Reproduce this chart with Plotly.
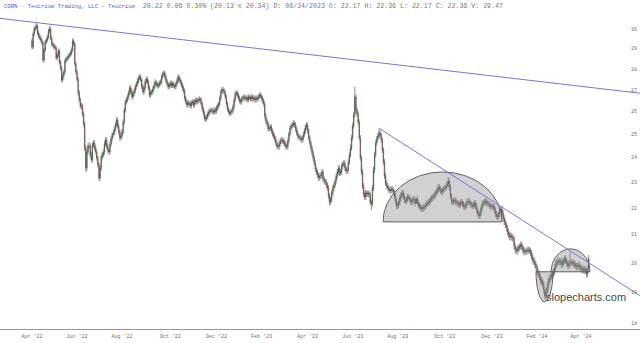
import numpy as np
import pandas as pd
import plotly.graph_objects as go

# ---------------- data ----------------
closes = [
29.08, 29.74, 30.00, 30.10, 30.15, 29.79, 29.64, 29.53, 29.44, 29.28,
28.43, 28.93, 29.33, 29.44, 29.58, 29.89, 30.00, 29.53, 29.23, 29.18,
29.08, 29.03, 28.53, 28.68, 28.88, 28.33, 28.04, 27.46, 27.66, 27.85,
28.38, 28.48, 28.53, 28.63, 28.68, 28.78, 28.93, 29.38, 29.23, 28.24,
27.85, 27.51, 26.86, 26.53, 26.25, 26.25, 25.89, 25.45, 24.41, 23.57,
24.24, 24.49, 24.49, 24.12, 23.91, 24.54, 24.62, 24.41, 24.24, 23.99,
23.70, 23.17, 23.57, 24.03, 24.12, 24.24, 24.58, 24.75, 24.49, 24.32,
24.24, 24.58, 24.80, 24.97, 25.06, 25.23, 25.41, 25.62, 25.36, 25.10,
24.84, 24.92, 25.10, 25.53, 26.07, 26.44, 26.53, 26.67, 26.86, 27.09,
26.90, 26.67, 26.81, 26.95, 27.14, 27.27, 27.42, 27.56, 27.61, 27.46,
27.14, 26.90, 27.09, 27.37, 27.51, 27.37, 27.09, 26.76, 26.86, 26.90,
27.04, 27.18, 27.37, 27.27, 27.18, 27.23, 27.32, 27.37, 27.61, 27.75,
27.80, 27.61, 27.42, 27.27, 27.14, 27.23, 27.32, 27.20, 27.28, 27.19,
27.14, 27.27, 27.42, 27.61, 27.46, 27.37, 27.23, 27.09, 26.95, 26.62,
26.44, 26.30, 26.40, 26.35, 26.25, 26.40, 26.44, 26.30, 26.44, 26.53,
26.44, 26.49, 26.58, 26.53, 26.35, 26.12, 25.94, 25.71, 25.67, 25.76,
25.89, 25.98, 26.03, 26.07, 26.03, 25.97, 26.07, 26.02, 26.16, 26.25,
26.35, 26.62, 26.90, 27.02, 26.96, 26.86, 26.67, 26.35, 26.12, 25.98,
25.92, 25.98, 26.03, 26.21, 26.53, 26.81, 26.86, 26.76, 26.62, 26.49,
26.44, 26.58, 26.62, 26.67, 26.58, 26.62, 26.53, 26.67, 26.62, 26.58,
26.67, 26.58, 26.62, 26.53, 26.62, 26.58, 26.67, 26.76, 26.71, 26.62,
26.49, 26.35, 25.80, 25.58, 25.45, 25.23, 25.27, 25.32, 25.14, 25.01,
24.92, 24.80, 24.62, 24.49, 24.45, 24.58, 24.71, 24.75, 24.71, 24.66,
24.58, 24.49, 24.45, 24.71, 25.01, 25.27, 25.36, 25.41, 25.49, 25.41,
25.23, 25.06, 24.92, 24.88, 24.84, 24.75, 24.80, 24.97, 25.14, 25.32,
25.41, 25.14, 24.84, 24.62, 24.41, 24.20, 23.99, 23.78, 23.53, 23.41,
23.29, 23.18, 23.24, 23.27, 23.41, 23.13, 23.05, 23.01, 22.89, 22.77,
22.46, 22.22, 22.34, 22.58, 22.77, 22.89, 23.05, 23.25, 23.41, 23.57,
23.37, 23.41, 23.66, 23.74, 23.78, 23.57, 23.45, 23.49, 23.82, 24.12,
24.41, 24.84, 25.36, 25.85, 26.67, 26.07, 25.89, 25.53, 24.84, 23.99,
23.41, 22.85, 22.54, 22.42, 22.58, 22.54, 22.57, 22.50, 22.22, 22.15,
22.77, 23.49, 24.12, 24.62, 24.80, 24.92, 25.06, 24.97, 24.75, 24.32,
23.82, 23.25, 22.97, 22.85, 22.77, 22.70, 22.66, 22.73, 22.70, 22.62,
22.46, 22.26, 22.07, 22.11, 22.22, 22.38, 22.50, 22.58, 22.46, 22.30,
22.26, 22.34, 22.42, 22.40, 22.30, 22.22, 22.26, 22.34, 22.30, 22.17,
22.36, 22.18, 22.11, 22.04, 22.00, 21.96, 22.00, 22.04, 22.07, 22.15,
22.19, 22.21, 22.26, 22.34, 22.38, 22.42, 22.46, 22.54, 22.62, 22.70,
22.81, 22.74, 22.66, 22.62, 22.70, 22.74, 22.77, 22.85, 22.93, 23.05,
22.81, 22.46, 22.26, 22.22, 22.26, 22.29, 22.22, 22.19, 22.15, 22.11,
22.19, 22.22, 22.15, 22.07, 22.04, 22.11, 22.22, 22.26, 22.22, 22.15,
22.11, 22.07, 22.11, 22.19, 22.07, 21.89, 21.77, 21.70, 21.81, 22.00,
22.15, 22.19, 22.22, 22.25, 22.19, 22.16, 22.15, 22.07, 22.04, 22.07,
22.04, 21.92, 21.77, 21.70, 21.66, 21.77, 21.89, 21.96, 21.81, 21.62,
21.47, 21.36, 21.25, 21.10, 21.00, 20.92, 20.96, 20.90, 20.85, 20.60,
20.45, 20.42, 20.49, 20.53, 20.57, 20.64, 20.57, 20.45, 20.38, 20.40,
20.42, 20.44, 20.45, 20.42, 20.35, 20.21, 20.10, 20.03, 19.94, 19.83,
19.69, 19.62, 19.52, 19.41, 19.35, 19.28, 19.08, 18.88, 18.98, 19.14,
19.35, 19.45, 19.52, 19.59, 19.62, 19.69, 19.83, 19.97, 20.03, 20.07,
20.03, 20.05, 19.94, 20.00, 20.07, 20.14, 20.07, 19.97, 19.90, 19.97,
20.03, 20.01, 20.00, 19.97, 19.94, 19.90, 19.87, 19.89, 19.92, 19.83,
19.79, 19.75, 19.79, 19.75, 19.72, 19.62, 19.79, 20.15,
]

opens = [
29.40, 29.08, 29.74, 30.00, 30.10, 30.15, 29.79, 29.64, 29.53, 29.44,
29.28, 28.43, 28.93, 29.33, 29.44, 29.58, 29.89, 30.00, 29.53, 29.23,
29.18, 29.08, 29.03, 28.53, 28.68, 28.88, 28.33, 28.04, 27.46, 27.66,
27.85, 28.38, 28.48, 28.53, 28.63, 28.68, 28.78, 28.93, 29.38, 29.23,
28.24, 27.85, 27.51, 26.86, 26.53, 26.25, 26.25, 25.89, 25.45, 24.41,
23.57, 24.24, 24.49, 24.49, 24.12, 23.91, 24.54, 24.62, 24.41, 24.24,
23.99, 23.70, 23.17, 23.57, 24.03, 24.12, 24.24, 24.58, 24.75, 24.49,
24.32, 24.24, 24.58, 24.80, 24.97, 25.06, 25.23, 25.41, 25.62, 25.36,
25.10, 24.84, 24.92, 25.10, 25.53, 26.07, 26.44, 26.53, 26.67, 26.86,
27.09, 26.90, 26.67, 26.81, 26.95, 27.14, 27.27, 27.42, 27.56, 27.61,
27.46, 27.14, 26.90, 27.09, 27.37, 27.51, 27.37, 27.09, 26.76, 26.86,
26.90, 27.04, 27.18, 27.37, 27.27, 27.18, 27.23, 27.32, 27.37, 27.61,
27.75, 27.80, 27.61, 27.42, 27.27, 27.14, 27.23, 27.32, 27.20, 27.28,
27.19, 27.14, 27.27, 27.42, 27.61, 27.46, 27.37, 27.23, 27.09, 26.95,
26.62, 26.44, 26.30, 26.40, 26.35, 26.25, 26.40, 26.44, 26.30, 26.44,
26.53, 26.44, 26.49, 26.58, 26.53, 26.35, 26.12, 25.94, 25.71, 25.67,
25.76, 25.89, 25.98, 26.03, 26.07, 26.03, 25.97, 26.07, 26.02, 26.16,
26.25, 26.35, 26.62, 26.90, 27.02, 26.96, 26.86, 26.67, 26.35, 26.12,
25.98, 25.92, 25.98, 26.03, 26.21, 26.53, 26.81, 26.86, 26.76, 26.62,
26.49, 26.44, 26.58, 26.62, 26.67, 26.58, 26.62, 26.53, 26.67, 26.62,
26.58, 26.67, 26.58, 26.62, 26.53, 26.62, 26.58, 26.67, 26.76, 26.71,
26.62, 26.49, 26.35, 25.80, 25.58, 25.45, 25.23, 25.27, 25.32, 25.14,
25.01, 24.92, 24.80, 24.62, 24.49, 24.45, 24.58, 24.71, 24.75, 24.71,
24.66, 24.58, 24.49, 24.45, 24.71, 25.01, 25.27, 25.36, 25.41, 25.49,
25.41, 25.23, 25.06, 24.92, 24.88, 24.84, 24.75, 24.80, 24.97, 25.14,
25.32, 25.41, 25.14, 24.84, 24.62, 24.41, 24.20, 23.99, 23.78, 23.53,
23.41, 23.29, 23.18, 23.24, 23.27, 23.41, 23.13, 23.05, 23.01, 22.89,
22.77, 22.46, 22.22, 22.34, 22.58, 22.77, 22.89, 23.05, 23.25, 23.41,
23.57, 23.37, 23.41, 23.66, 23.74, 23.78, 23.57, 23.45, 23.49, 23.82,
24.12, 24.41, 24.84, 25.36, 25.85, 26.67, 26.07, 25.89, 25.53, 24.84,
23.99, 23.41, 22.85, 22.54, 22.42, 22.58, 22.54, 22.57, 22.50, 22.22,
22.15, 22.77, 23.49, 24.12, 24.62, 24.80, 24.92, 25.06, 24.97, 24.75,
24.32, 23.82, 23.25, 22.97, 22.85, 22.77, 22.70, 22.66, 22.73, 22.70,
22.62, 22.46, 22.26, 22.07, 22.11, 22.22, 22.38, 22.50, 22.58, 22.46,
22.30, 22.26, 22.34, 22.42, 22.40, 22.30, 22.22, 22.26, 22.34, 22.30,
22.17, 22.36, 22.18, 22.11, 22.04, 22.00, 21.96, 22.00, 22.04, 22.07,
22.15, 22.19, 22.21, 22.26, 22.34, 22.38, 22.42, 22.46, 22.54, 22.62,
22.70, 22.81, 22.74, 22.66, 22.62, 22.70, 22.74, 22.77, 22.85, 22.93,
23.05, 22.81, 22.46, 22.26, 22.22, 22.26, 22.29, 22.22, 22.19, 22.15,
22.11, 22.19, 22.22, 22.15, 22.07, 22.04, 22.11, 22.22, 22.26, 22.22,
22.15, 22.11, 22.07, 22.11, 22.19, 22.07, 21.89, 21.77, 21.70, 21.81,
22.00, 22.15, 22.19, 22.22, 22.25, 22.19, 22.16, 22.15, 22.07, 22.04,
22.07, 22.04, 21.92, 21.77, 21.70, 21.66, 21.77, 21.89, 21.96, 21.81,
21.62, 21.47, 21.36, 21.25, 21.10, 21.00, 20.92, 20.96, 20.90, 20.85,
20.60, 20.45, 20.42, 20.49, 20.53, 20.57, 20.64, 20.57, 20.45, 20.38,
20.40, 20.42, 20.44, 20.45, 20.42, 20.35, 20.21, 20.10, 20.03, 19.94,
19.83, 19.69, 19.62, 19.52, 19.41, 19.35, 19.28, 19.08, 18.88, 18.98,
19.14, 19.35, 19.45, 19.52, 19.59, 19.62, 19.69, 19.83, 19.97, 20.03,
20.07, 20.03, 20.05, 19.94, 20.00, 20.07, 20.14, 20.07, 19.97, 19.90,
19.97, 20.03, 20.01, 20.00, 19.97, 19.94, 19.90, 19.87, 19.89, 19.92,
19.83, 19.79, 19.75, 19.79, 19.75, 19.72, 19.62, 19.79,
]

highs = [
29.52, 29.86, 30.12, 30.22, 30.35, 30.25, 29.92, 29.76, 29.65, 29.55,
29.38, 29.02, 29.45, 29.55, 29.70, 30.02, 30.18, 30.10, 29.65, 29.35,
29.30, 29.20, 29.14, 28.80, 29.00, 28.99, 28.45, 28.15, 27.78, 27.97,
28.50, 28.60, 28.65, 28.75, 28.80, 28.90, 29.05, 29.52, 29.50, 29.33,
28.35, 27.97, 27.62, 26.98, 26.65, 26.40, 26.36, 26.00, 25.58, 24.55,
24.38, 24.62, 24.65, 24.60, 24.25, 24.66, 24.75, 24.74, 24.53, 24.36,
24.10, 23.82, 23.70, 24.15, 24.25, 24.36, 24.70, 24.88, 24.86, 24.60,
24.43, 24.70, 24.92, 25.09, 25.18, 25.35, 25.53, 25.75, 25.73, 25.47,
25.21, 25.04, 25.22, 25.65, 26.20, 26.56, 26.65, 26.80, 26.98, 27.22,
27.20, 27.02, 26.93, 27.07, 27.26, 27.39, 27.54, 27.68, 27.74, 27.72,
27.57, 27.26, 27.21, 27.49, 27.63, 27.62, 27.48, 27.20, 26.98, 27.02,
27.16, 27.30, 27.49, 27.48, 27.38, 27.35, 27.44, 27.49, 27.73, 27.88,
27.92, 27.91, 27.72, 27.53, 27.38, 27.35, 27.44, 27.43, 27.40, 27.39,
27.30, 27.39, 27.54, 27.74, 27.72, 27.57, 27.48, 27.34, 27.20, 27.06,
26.73, 26.55, 26.52, 26.51, 26.46, 26.52, 26.56, 26.55, 26.56, 26.65,
26.64, 26.61, 26.70, 26.69, 26.64, 26.46, 26.23, 26.05, 25.83, 25.88,
26.01, 26.10, 26.15, 26.19, 26.18, 26.14, 26.19, 26.18, 26.28, 26.37,
26.47, 26.74, 27.02, 27.14, 27.13, 27.07, 26.97, 26.78, 26.46, 26.23,
26.09, 26.10, 26.15, 26.33, 26.65, 26.93, 26.98, 26.97, 26.87, 26.73,
26.60, 26.70, 26.74, 26.79, 26.78, 26.74, 26.73, 26.79, 26.78, 26.73,
26.79, 26.78, 26.74, 26.73, 26.74, 26.73, 26.79, 26.88, 26.87, 26.82,
26.73, 26.60, 26.46, 25.92, 25.70, 25.56, 25.39, 25.44, 25.43, 25.25,
25.12, 25.03, 24.91, 24.73, 24.60, 24.70, 24.83, 24.87, 24.86, 24.82,
24.77, 24.69, 24.60, 24.83, 25.13, 25.39, 25.48, 25.53, 25.61, 25.60,
25.52, 25.34, 25.17, 25.03, 24.99, 24.95, 24.92, 25.09, 25.26, 25.44,
25.53, 25.52, 25.25, 24.95, 24.73, 24.52, 24.31, 24.10, 23.89, 23.64,
23.52, 23.40, 23.35, 23.38, 23.53, 23.52, 23.24, 23.16, 23.12, 23.00,
22.88, 22.57, 22.45, 22.70, 22.89, 23.01, 23.17, 23.37, 23.53, 23.69,
23.68, 23.53, 23.78, 23.86, 23.90, 23.89, 23.68, 23.60, 23.94, 24.25,
24.54, 24.97, 25.50, 26.00, 27.15, 26.80, 26.20, 26.00, 25.65, 24.96,
24.10, 23.52, 22.97, 22.66, 22.70, 22.69, 22.68, 22.68, 22.61, 22.33,
22.89, 23.62, 24.25, 24.75, 24.93, 25.05, 25.25, 25.18, 25.08, 24.86,
24.43, 23.94, 23.37, 23.09, 22.97, 22.88, 22.81, 22.85, 22.84, 22.81,
22.73, 22.57, 22.37, 22.23, 22.34, 22.50, 22.62, 22.70, 22.69, 22.57,
22.41, 22.46, 22.54, 22.53, 22.51, 22.41, 22.38, 22.46, 22.45, 22.41,
22.36, 22.47, 22.29, 22.22, 22.15, 22.11, 22.12, 22.16, 22.19, 22.27,
22.31, 22.33, 22.38, 22.46, 22.50, 22.54, 22.58, 22.66, 22.74, 22.82,
22.93, 22.92, 22.85, 22.77, 22.82, 22.86, 22.89, 22.97, 23.05, 23.20,
23.16, 22.92, 22.57, 22.37, 22.38, 22.41, 22.40, 22.33, 22.30, 22.26,
22.31, 22.34, 22.33, 22.26, 22.18, 22.23, 22.34, 22.38, 22.37, 22.33,
22.26, 22.22, 22.23, 22.31, 22.30, 22.18, 22.00, 21.88, 21.93, 22.12,
22.27, 22.31, 22.34, 22.37, 22.36, 22.30, 22.27, 22.26, 22.18, 22.19,
22.18, 22.15, 22.03, 21.88, 21.81, 21.89, 22.01, 22.08, 22.07, 21.92,
21.73, 21.58, 21.47, 21.36, 21.21, 21.11, 21.07, 21.07, 21.01, 20.96,
20.71, 20.56, 20.60, 20.64, 20.68, 20.75, 20.75, 20.68, 20.56, 20.51,
20.53, 20.55, 20.56, 20.56, 20.53, 20.46, 20.32, 20.21, 20.14, 20.05,
19.94, 19.80, 19.73, 19.63, 19.52, 19.46, 19.39, 19.19, 19.10, 19.26,
19.47, 19.57, 19.64, 19.71, 19.74, 19.81, 19.95, 20.09, 20.15, 20.19,
20.18, 20.16, 20.16, 20.11, 20.19, 20.26, 20.25, 20.18, 20.08, 20.09,
20.38, 20.14, 20.12, 20.11, 20.08, 20.05, 20.01, 20.00, 20.03, 20.03,
19.94, 19.90, 19.90, 19.90, 19.86, 19.83, 19.91, 20.28,
]

lows = [
28.95, 28.98, 29.62, 29.88, 29.98, 29.68, 29.52, 29.42, 29.33, 29.16,
28.30, 28.32, 28.82, 29.22, 29.33, 29.47, 29.78, 29.42, 29.11, 29.05,
28.96, 28.92, 28.41, 28.42, 28.57, 28.21, 27.92, 27.33, 27.35, 27.55,
27.74, 28.27, 28.36, 28.42, 28.52, 28.57, 28.66, 28.82, 29.12, 28.12,
27.72, 27.38, 26.73, 26.41, 26.12, 26.10, 25.77, 25.32, 24.28, 23.40,
23.45, 24.12, 24.36, 24.00, 23.79, 23.80, 24.42, 24.30, 24.12, 23.87,
23.58, 23.05, 23.05, 23.45, 23.91, 24.00, 24.12, 24.46, 24.37, 24.20,
24.12, 24.13, 24.46, 24.68, 24.85, 24.95, 25.11, 25.30, 25.24, 24.98,
24.72, 24.72, 24.80, 24.98, 25.41, 25.95, 26.32, 26.41, 26.55, 26.74,
26.78, 26.55, 26.55, 26.69, 26.83, 27.02, 27.15, 27.30, 27.44, 27.34,
27.02, 26.78, 26.78, 26.97, 27.25, 27.25, 26.97, 26.64, 26.64, 26.74,
26.78, 26.92, 27.06, 27.15, 27.06, 27.06, 27.11, 27.20, 27.25, 27.49,
27.63, 27.49, 27.30, 27.15, 27.02, 27.02, 27.11, 27.08, 27.08, 27.07,
27.02, 27.02, 27.15, 27.30, 27.34, 27.25, 27.11, 26.97, 26.83, 26.50,
26.32, 26.18, 26.18, 26.23, 26.13, 26.13, 26.28, 26.18, 26.18, 26.32,
26.32, 26.32, 26.37, 26.41, 26.23, 26.00, 25.82, 25.59, 25.55, 25.55,
25.64, 25.77, 25.86, 25.91, 25.91, 25.85, 25.85, 25.90, 25.90, 26.04,
26.13, 26.23, 26.50, 26.78, 26.84, 26.74, 26.55, 26.23, 26.00, 25.86,
25.80, 25.80, 25.86, 25.91, 26.09, 26.41, 26.69, 26.64, 26.50, 26.37,
26.32, 26.32, 26.46, 26.50, 26.46, 26.46, 26.41, 26.41, 26.50, 26.46,
26.46, 26.46, 26.46, 26.41, 26.41, 26.46, 26.46, 26.55, 26.59, 26.50,
26.37, 26.23, 25.66, 25.46, 25.33, 25.11, 25.11, 25.15, 25.02, 24.89,
24.80, 24.68, 24.50, 24.37, 24.33, 24.33, 24.46, 24.59, 24.59, 24.54,
24.46, 24.37, 24.33, 24.33, 24.59, 24.89, 25.15, 25.24, 25.29, 25.29,
25.11, 24.94, 24.80, 24.76, 24.72, 24.63, 24.63, 24.68, 24.85, 25.02,
25.20, 25.02, 24.72, 24.50, 24.29, 24.08, 23.87, 23.66, 23.41, 23.29,
23.17, 23.06, 23.06, 23.12, 23.15, 23.01, 22.93, 22.89, 22.77, 22.65,
22.34, 22.10, 22.10, 22.22, 22.46, 22.65, 22.77, 22.93, 23.13, 23.29,
23.25, 23.25, 23.29, 23.54, 23.62, 23.45, 23.33, 23.33, 23.37, 23.70,
24.00, 24.29, 24.72, 25.24, 25.73, 25.95, 25.77, 25.41, 24.72, 23.87,
23.29, 22.73, 22.42, 22.30, 22.30, 22.42, 22.42, 22.38, 22.10, 21.92,
22.03, 22.65, 23.37, 24.00, 24.50, 24.68, 24.80, 24.85, 24.63, 24.20,
23.70, 23.13, 22.85, 22.73, 22.65, 22.58, 22.54, 22.54, 22.58, 22.50,
22.34, 22.14, 21.95, 21.95, 21.99, 22.10, 22.26, 22.38, 22.34, 22.18,
22.14, 22.14, 22.22, 22.28, 22.18, 22.10, 22.10, 22.14, 22.18, 22.05,
22.17, 22.08, 21.99, 21.92, 21.88, 21.84, 21.84, 21.88, 21.92, 21.95,
22.03, 22.07, 22.09, 22.14, 22.22, 22.26, 22.30, 22.34, 22.42, 22.50,
22.58, 22.62, 22.54, 22.50, 22.50, 22.58, 22.62, 22.65, 22.73, 22.81,
22.69, 22.34, 22.14, 22.10, 22.10, 22.14, 22.10, 22.07, 22.03, 21.99,
21.99, 22.07, 22.03, 21.95, 21.92, 21.92, 21.99, 22.10, 22.10, 22.03,
21.99, 21.95, 21.95, 21.99, 21.95, 21.77, 21.65, 21.58, 21.58, 21.69,
21.88, 22.03, 22.07, 22.10, 22.07, 22.04, 22.03, 21.95, 21.92, 21.92,
21.92, 21.80, 21.65, 21.58, 21.54, 21.54, 21.65, 21.77, 21.69, 21.50,
21.35, 21.24, 21.13, 20.98, 20.88, 20.80, 20.80, 20.78, 20.73, 20.48,
20.33, 20.30, 20.30, 20.37, 20.41, 20.45, 20.45, 20.33, 20.26, 20.26,
20.28, 20.30, 20.32, 20.30, 20.23, 20.09, 19.98, 19.91, 19.82, 19.71,
19.57, 19.50, 19.40, 19.29, 19.23, 19.16, 18.96, 18.78, 18.78, 18.86,
19.02, 19.23, 19.33, 19.40, 19.47, 19.50, 19.57, 19.71, 19.85, 19.91,
19.91, 19.91, 19.82, 19.82, 19.88, 19.95, 19.95, 19.85, 19.78, 19.78,
19.83, 19.89, 19.88, 19.85, 19.82, 19.78, 19.75, 19.75, 19.77, 19.71,
19.67, 19.63, 19.63, 19.63, 19.60, 19.50, 19.50, 19.67,
]

assert len(opens) == len(highs) == len(lows) == len(closes)

market_holidays = [
    "2022-04-15", "2022-05-30", "2022-06-20", "2022-07-04", "2022-09-05",
    "2022-11-24", "2022-12-26", "2023-01-02", "2023-01-16", "2023-02-20",
    "2023-04-07", "2023-05-29", "2023-06-19", "2023-07-04", "2023-09-04",
    "2023-11-23", "2023-12-25", "2024-01-01", "2024-01-15", "2024-02-19",
    "2024-03-29",
]
first_day = "2022-04-01"
tick_months = [4, 6, 8, 10, 12, 2]
y_ticks = [18, 19, 20, 21, 22, 23, 24, 25, 26, 27, 28, 29, 30]

# drawn annotations (trading-day index, price)
long_trend = [(-29.14, 30.56), (553.7, 26.84)]
short_trend = [(316.3, 25.25), (553.7, 18.89)]
big_dome = dict(x0=319.7, x1=428.1, base=21.47, top=23.41)
small_dome = dict(x0=472.7, x1=508.2, base=19.69, top=20.49)
bowl = dict(x0=459.0, x1=474.5, base=19.69, bottom=18.69)

header_name = "CORN - Teucrium Trading, LLC - Teucrium"
header_quote = ("20.22 0.06 0.30% (20.13 x 20.34) D: 08/24/2023 "
                "O: 22.17 H: 22.36 L: 22.17 C: 22.36 V: 29.47")

# ---------------- build ----------------
dates = pd.bdate_range(first_day, periods=len(closes), freq="C",
                       holidays=market_holidays)
idx = list(range(len(closes)))

tickvals, ticktext = [], []
prev_month = None
for i, d in enumerate(dates):
    if d.month != prev_month:
        if d.month in tick_months:
            tickvals.append(i)
            ticktext.append(d.strftime("%b '%y"))
        prev_month = d.month

fig = go.Figure()


def half_ellipse(x0, x1, base, peak, n=80):
    th = np.linspace(0, np.pi, n)
    cx, hw = (x0 + x1) / 2, (x1 - x0) / 2
    lb, lp = np.log10(base), np.log10(peak)
    xs = list(cx + hw * np.cos(th))
    ys = list(10 ** (lb + (lp - lb) * np.sin(th)))
    xs.append(xs[0])
    ys.append(ys[0])
    return xs, ys


shape_style = dict(mode="lines", fill="toself",
                   fillcolor="rgba(140,140,140,0.40)",
                   line=dict(color="rgb(95,95,95)", width=1),
                   hoverinfo="skip")
for shp in (big_dome, small_dome):
    xs, ys = half_ellipse(shp["x0"], shp["x1"], shp["base"], shp["top"])
    fig.add_trace(go.Scatter(x=xs, y=ys, **shape_style))
xs, ys = half_ellipse(bowl["x0"], bowl["x1"], bowl["base"], bowl["bottom"])
fig.add_trace(go.Scatter(x=xs, y=ys, **shape_style))

fig.add_trace(go.Candlestick(
    x=idx, open=opens, high=highs, low=lows, close=closes,
    increasing=dict(fillcolor="rgb(80,165,80)",
                    line=dict(color="rgb(50,66,50)", width=0.55)),
    decreasing=dict(fillcolor="rgb(210,120,130)",
                    line=dict(color="rgb(74,54,58)", width=0.55)),
    whiskerwidth=0,
))

for seg in (long_trend, short_trend):
    fig.add_trace(go.Scatter(x=[p[0] for p in seg], y=[p[1] for p in seg],
                             mode="lines",
                             line=dict(color="rgb(118,118,214)", width=1),
                             hoverinfo="skip"))

fig.add_annotation(
    xref="paper", yref="paper", x=0, y=1, xanchor="left", yanchor="top",
    xshift=2, yshift=-1, showarrow=False,
    text=("<span style='color:rgb(70,100,200);font-size:5.6px'>" +
          header_name + "</span>&nbsp;&nbsp;" + header_quote),
    font=dict(family="Liberation Mono", size=6.6, color="rgb(120,120,120)"),
)
fig.add_annotation(
    xref="paper", yref="paper", x=1, y=1 - 297 / 329, xanchor="right",
    yanchor="middle", xshift=-12, showarrow=False, text="slopecharts.com",
    font=dict(family="Liberation Sans", size=11, color="rgb(70,70,70)"),
)

fig.update_layout(
    width=640, height=343,
    margin=dict(l=0, r=0, t=0, b=14),
    paper_bgcolor="white", plot_bgcolor="white",
    showlegend=False,
    xaxis=dict(
        range=[-29.14, 553.7], rangeslider=dict(visible=False),
        tickvals=tickvals, ticktext=ticktext, showgrid=False, zeroline=False,
        showline=True, linecolor="rgb(150,150,150)", linewidth=1,
        ticks="", ticklabelstandoff=2,
        tickfont=dict(family="Liberation Mono", size=5,
                      color="rgb(110,110,110)"),
    ),
    yaxis=dict(
        type="log", range=[1.25115, 1.4990], side="right",
        ticklabelposition="inside", tickvals=y_ticks,
        ticktext=[str(v) for v in y_ticks], showgrid=False, zeroline=False,
        showline=False, ticks="",
        tickfont=dict(family="Liberation Mono", size=5,
                      color="rgb(110,110,110)"),
    ),
)

fig.write_html("out.html")
